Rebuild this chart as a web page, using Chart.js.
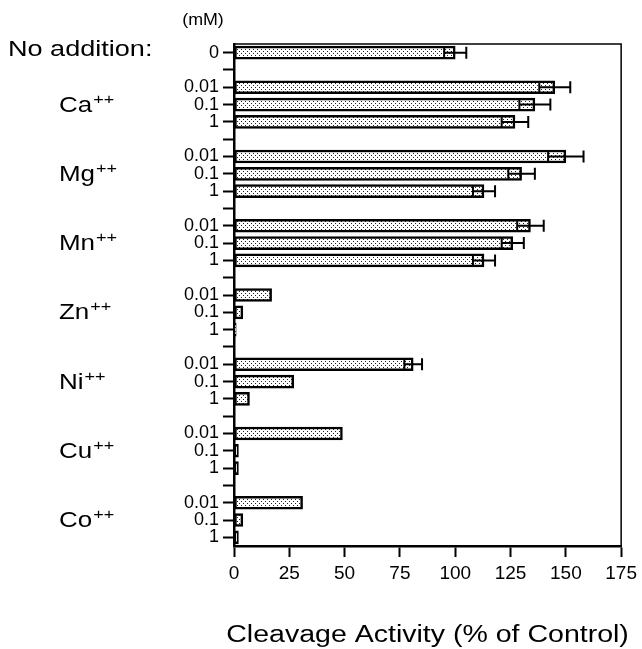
<!DOCTYPE html>
<html><head><meta charset="utf-8">
<script src="https://cdn.jsdelivr.net/npm/chart.js@4"></script>
<style>html,body{margin:0;padding:0;background:#fff}#wrap{width:642px;height:649px}</style>
</head><body><div id="wrap"><canvas id="c" width="642" height="649"></canvas></div>
<script>
// ---- data ----
const controlLabel = '0';
const controlValue = 100;
const controlError = 5;
const metals = ['Ca', 'Mg', 'Mn', 'Zn', 'Ni', 'Cu', 'Co'];
const concentrations = ['0.01', '0.1', '1'];
const caValues = [145, 136, 127];
const caErrors = [7, 7, 6];
const mgValues = [150, 130, 113];
const mgErrors = [8, 6, 5];
const mnValues = [134, 126, 113];
const mnErrors = [6, 5, 5];
const znValues = [17, 4, 1];
const znErrors = [0, 0, 0];
const niValues = [81, 27, 7];
const niErrors = [4, 0, 0];
const cuValues = [49, 2, 2];
const cuErrors = [0, 0, 0];
const coValues = [31, 4, 2];
const coErrors = [0, 0, 0];
const xTickValues = [0, 25, 50, 75, 100, 125, 150, 175];
const axisTitle = 'Cleavage Activity (% of Control)';
const unitLabel = '(mM)';
const controlName = 'No addition:';

const metalValues = [caValues, mgValues, mnValues, znValues, niValues, cuValues, coValues];
const metalErrors = [caErrors, mgErrors, mnErrors, znErrors, niErrors, cuErrors, coErrors];

// build category rows
const labels = [controlLabel, ''];
const values = [controlValue, null];
const errors = [controlError, 0];
const groupMid = [];
metals.forEach((m, gi) => {
  concentrations.forEach((c, ci) => {
    if (ci === 1) groupMid.push(labels.length);
    labels.push(c);
    values.push(metalValues[gi][ci]);
    errors.push(metalErrors[gi][ci]);
  });
  if (gi < metals.length - 1) { labels.push(''); values.push(null); errors.push(0); }
});

function makePattern() {
  const p = document.createElement('canvas');
  p.width = 4; p.height = 4;
  const g = p.getContext('2d');
  g.fillStyle = '#fff'; g.fillRect(0, 0, 4, 4);
  g.fillStyle = '#222';
  g.fillRect(1, 1, 1, 1);
  g.fillRect(3, 3, 1, 1);
  return g.createPattern(p, 'repeat');
}

const FONT = "'Liberation Sans', Arial, Helvetica, sans-serif";

function stretchedText(ctx, text, x, y, size, sx, align) {
  ctx.save();
  ctx.font = size + 'px ' + FONT;
  ctx.textBaseline = 'middle';
  const w = ctx.measureText(text).width * sx;
  let x0 = x;
  if (align === 'center') x0 = x - w / 2;
  else if (align === 'right') x0 = x - w;
  ctx.translate(x0, y);
  ctx.scale(sx, 1);
  ctx.textAlign = 'left';
  ctx.fillStyle = '#000';
  ctx.fillText(text, 0, 0);
  ctx.restore();
  return w;
}

const errorBarPlugin = {
  id: 'errorBars',
  afterDatasetsDraw(chart) {
    const ctx = chart.ctx;
    const xs = chart.scales.x, ys = chart.scales.y;
    ctx.save();
    ctx.strokeStyle = '#000';
    ctx.lineWidth = 2;
    values.forEach((v, i) => {
      const e = errors[i];
      if (v == null || !e) return;
      const y = ys.getPixelForValue(i);
      const xl = xs.getPixelForValue(v - e);
      const xr = xs.getPixelForValue(v + e);
      ctx.beginPath();
      ctx.moveTo(xl, y); ctx.lineTo(xr, y);
      ctx.moveTo(xr, y - 6); ctx.lineTo(xr, y + 6);
      ctx.moveTo(xl, y - 5); ctx.lineTo(xl, y + 5);
      ctx.stroke();
    });
    ctx.restore();
  }
};

const framePlugin = {
  id: 'frame',
  afterDraw(chart) {
    const ctx = chart.ctx, a = chart.chartArea;
    ctx.save();
    ctx.strokeStyle = '#000';
    ctx.lineWidth = 1.5;
    ctx.beginPath();
    ctx.moveTo(a.left, a.top); ctx.lineTo(a.right, a.top); ctx.lineTo(a.right, a.bottom);
    ctx.stroke();
    ctx.restore();
  }
};

const textPlugin = {
  id: 'texts',
  afterDraw(chart) {
    const ctx = chart.ctx, a = chart.chartArea, ys = chart.scales.y;
    stretchedText(ctx, controlName, 8, ys.getPixelForValue(0) - 3, 22, 1.23, 'left');
    metals.forEach((m, gi) => {
      const y = ys.getPixelForValue(groupMid[gi]) + 1;
      const w = stretchedText(ctx, m, 59, y, 22, 1.18, 'left');
      stretchedText(ctx, '++', 59 + w + 1, y - 6, 15, 1.2, 'left');
    });
    stretchedText(ctx, unitLabel, 203, 20, 17, 1.05, 'center');
    stretchedText(ctx, axisTitle, (a.left + a.right) / 2, 636, 23, 1.24, 'center');
  }
};

new Chart(document.getElementById('c'), {
  type: 'bar',
  data: {
    labels: labels,
    datasets: [{
      data: values,
      backgroundColor: makePattern(),
      borderColor: '#000',
      borderWidth: 2.5,
      borderSkipped: false,
      barThickness: 13
    }]
  },
  options: {
    responsive: false,
    animation: false,
    indexAxis: 'y',
    layout: { padding: { top: 44, right: 18, left: 0, bottom: 0 } },
    plugins: { legend: { display: false }, tooltip: { enabled: false } },
    scales: {
      x: {
        type: 'linear', min: 0, max: 175,
        afterBuildTicks(s) { s.ticks = xTickValues.map(v => ({ value: v })); },
        afterFit(s) { s.height = 103; },
        ticks: { color: '#000', font: { family: FONT, size: 19 }, padding: 5, maxRotation: 0 },
        grid: { drawOnChartArea: false, drawTicks: true, tickLength: 11, tickWidth: 2, tickColor: '#000' },
        border: { display: true, color: '#000', width: 2.5 }
      },
      y: {
        type: 'category', offset: true,
        afterFit(s) { s.width = 234; },
        ticks: { color: '#000', font: { family: FONT, size: 18 }, padding: 4, autoSkip: false },
        grid: { offset: false, drawOnChartArea: false, drawTicks: true, tickLength: 11, tickWidth: 2, tickColor: '#000' },
        border: { display: true, color: '#000', width: 2.5 }
      }
    }
  },
  plugins: [errorBarPlugin, framePlugin, textPlugin]
});
</script>
</body></html>
